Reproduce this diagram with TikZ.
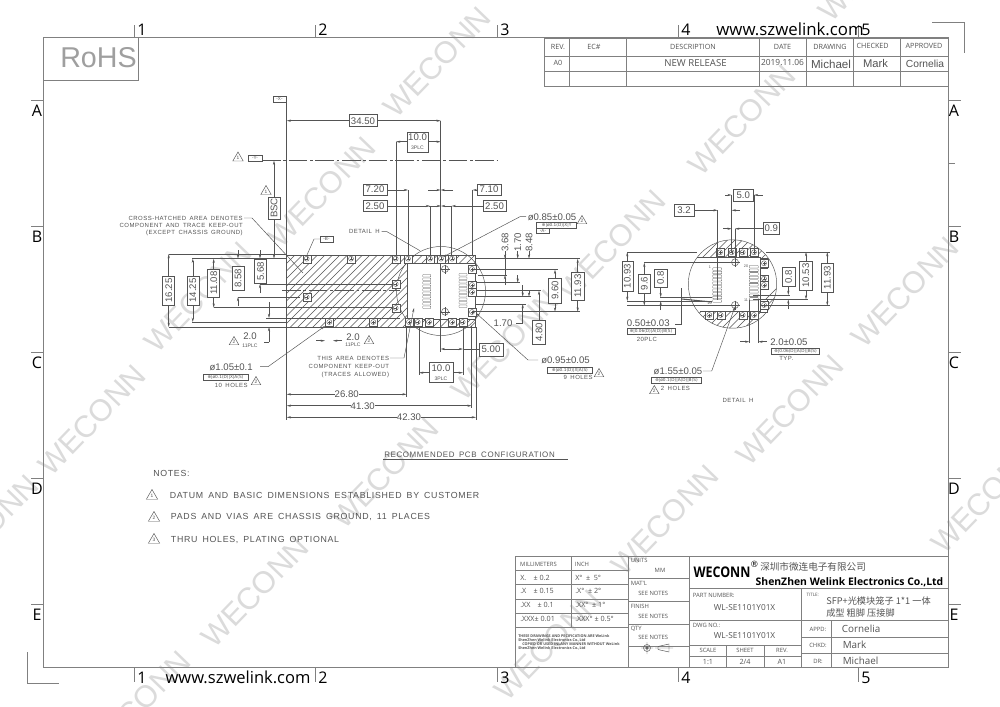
\documentclass[tikz,border=0pt]{standalone}
\usepackage{fontspec}
\usetikzlibrary{arrows.meta,shapes.geometric}
\setmainfont{Liberation Sans}
\newfontfamily\cad[LetterSpace=8,WordSpace=1.6]{Liberation Sans}
\newfontfamily\tbf{Open Sans}
\newfontfamily\cjk{Noto Sans CJK SC}
\newfontfamily\sym{DejaVu Sans}
\definecolor{ink}{gray}{0.33}
\definecolor{frm}{gray}{0.50}
\definecolor{wm}{gray}{0.86}
\newcounter{tc}
\newcommand\T[3][]{\stepcounter{tc}\node[txt,#1] (t\arabic{tc}) at (#2) {#3};}
\newcommand\HB[5]{\stepcounter{tc}\node[dbox,minimum width=#3*0.75pt,minimum height=#4*0.75pt] (t\arabic{tc}) at (#1,#2) {#5};}
\newcommand\VB[5]{\stepcounter{tc}\node[dbox,rotate=90,minimum width=#4*0.75pt,minimum height=#3*0.75pt] (t\arabic{tc}) at (#1,#2) {#5};}
\newcommand\Pad[2]{\draw[ln,line width=.25pt,fill=white] ({#1-4},{#2-4}) rectangle ({#1+4},{#2+4}); \draw[ln,line width=.3pt] (#1,#2) circle[radius=2.5]; \draw[ln,line width=.15pt] ({#1-1.5},#2) -- ({#1+1.5},#2) ({#1},{#2-1.5}) -- ({#1},{#2+1.5});}
\newcommand\Hole[3]{\draw[ln] (#1,#2) circle[radius=#3]; \draw[ln,line width=.2pt] ({#1-#3-1},#2) -- ({#1+#3+1},#2) (#1,{#2-#3-1}) -- (#1,{#2+#3+1});}
\newcommand\Col[4]{\foreach \k in {0,...,9}{\draw[ln,line width=.22pt,rounded corners=.4pt] (#1,{#3+\k*(#4-#3)/10+.5}) rectangle (#2,{#3+(\k+1)*(#4-#3)/10-.5});}}
\newcommand\Tri[3]{\stepcounter{tc}\node[tri,minimum size=#3*0.75pt,font=\fontsize{3.6}{4}\selectfont] (t\arabic{tc}) at (#1) {#2};}
\newcommand\Fcf[4]{\stepcounter{tc}\node[fcf,minimum width=#3*0.75pt] (t\arabic{tc}) at (#1,#2) {#4};}
\tikzset{
 x=0.75pt,y=-0.75pt,
 ln/.style={draw=ink,line width=.35pt},
 lnb/.style={draw=ink,line width=.8pt},
 ar/.style={ln,-{Stealth[length=3.2pt,width=1.6pt]}},
 hatchl/.style={draw=ink,line width=.28pt},
 txt/.style={text=ink,inner sep=0pt,font=\fontsize{7.2}{8}\selectfont},
 note/.style={text=ink,inner sep=0pt,font=\cad\fontsize{4.5}{5.5}\selectfont},
 notem/.style={text=ink,inner sep=0pt,font=\cad\fontsize{6.6}{8}\selectfont},
 dbox/.style={draw=ink,line width=.4pt,fill=white,text=ink,inner sep=0pt,font=\fontsize{7.2}{8}\selectfont},
 tri/.style={draw=ink,line width=.35pt,regular polygon,regular polygon sides=3,inner sep=0pt,text=ink},
 fcf/.style={draw=ink,line width=.45pt,text=ink,inner sep=.4pt,minimum height=4.2pt,font=\sym\fontsize{3.2}{3.6}\selectfont},
 tb/.style={text=ink,inner sep=0pt,font=\tbf\fontsize{5.4}{6}\selectfont},
 tbs/.style={text=ink,inner sep=0pt,font=\tbf\fontsize{4.4}{5}\selectfont},
 sig/.style={text=ink,inner sep=0pt,font=\tbf\fontsize{7.4}{8}\selectfont},
 rule/.style={draw=frm,line width=.55pt},
 tick/.style={text=black,inner sep=0pt,font=\tbf\fontsize{12}{14}\selectfont},
 url/.style={text=black,inner sep=0pt,font=\tbf\fontsize{12.6}{14}\selectfont},
 urlb/.style={text=black,inner sep=0pt,font=\tbf\fontsize{12.4}{14}\selectfont},
 wmk/.style={text=wm,inner sep=0pt,rotate=46,font=\fontsize{23}{24}\selectfont},
}
\begin{document}
\begin{tikzpicture}
\useasboundingbox (0,0) rectangle (1000,707);
\fill[white] (0,0) rectangle (1000,707);
% watermarks
\foreach \p in {(437,62),(322,192),(198,297),(92,420),(-15,530),(612,245),(505,345),(385,473),(255,592),(137,706),(742,120),(905,292),(790,410),(665,520),(548,645),(985,498),(872,-34)}{\node[wmk] at \p {WECONN};}
% sheet frame
\draw[rule] (43.5,37.7) rectangle (948.3,667.7);
\draw[rule] (43.5,80.3) -- (138,80.3) -- (138,37.7);
\T[text=gray!75!white,font=\fontsize{21.5}{22}\selectfont]{98.5,58}{RoHS}
\foreach \x/\n in {134/1,315/2,497/3,678/4,858/5}{
  \draw[rule] (\x,25) -- (\x,37.7);
  \draw[rule] (\x,667.7) -- (\x,682);
  \node[tick] at (\x+8,30) {\n};
  \node[tick] at (\x+8,677.5) {\n};
}
\foreach \y/\n in {100/A,226/B,352/C,478/D,604/E}{
  \draw[rule] (31,\y) -- (43.5,\y);
  \draw[rule] (948.3,\y) -- (961,\y);
  \node[tick] at (37,\y+11) {\n};
  \node[tick] at (954,\y+11) {\n};
}
\draw[rule] (948.3,163.5) -- (955,163.5);
\draw[rule] (27.3,652) -- (27.3,683.5) -- (59,683.5);
\draw[rule] (932,22) -- (964,22) -- (964,53);
\T[url]{790,29.5}{www.szwelink.com}
\T[urlb]{238,677.5}{www.szwelink.com}
% revision table
\draw[rule] (544,38) rectangle (948.3,86);
\draw[rule] (544,56) -- (948.3,56) (544,71) -- (948.3,71);
\foreach \x in {569.3,626,759.3,806,853.3,900.7}{\draw[rule] (\x,38) -- (\x,86);}
\T[tb]{558,46.5}{REV.}
\T[tb]{594,46.5}{EC\#}
\T[tb]{693,46.5}{DESCRIPTION}
\T[tb]{782.5,46.5}{DATE}
\T[tb]{830,46.5}{DRAWING}
\T[tb]{872.7,45.5}{CHECKED}
\T[tb]{924,45.5}{APPROVED}
\T[tb]{558,63}{A0}
\T[tb,font=\tbf\fontsize{7.2}{8}\selectfont]{695.5,63}{NEW RELEASE}
\T[tb,font=\tbf\fontsize{6.3}{7}\selectfont]{782.5,63}{2019.11.06}
\T[tb,font=\fontsize{8.7}{9}\selectfont]{831,64}{Michael}
\T[tb,font=\fontsize{8.4}{9}\selectfont]{875.5,63}{Mark}
\T[tb,font=\fontsize{7.7}{9}\selectfont]{925,63.5}{Cornelia}
% hatch main
\begin{scope}
\clip (286.7,255) -- (475.7,255) -- (475.7,263) -- (407,263) -- (407,319) -- (475.7,319) -- (475.7,327) -- (286.7,327) -- cycle;
\foreach \a in {205,212.5,...,480}{\draw[hatchl] (\a,330) -- (\a+80,250);}
\end{scope}
\draw[ln] (286.7,255) rectangle (475.7,327);
\draw[ln] (475.7,263) -- (407,263) -- (407,319) -- (475.7,319);
% circle of detail H
\draw[ln] (441,291) circle[radius=44.5];
% centre lines / long extension lines
\draw[ln,dash pattern=on 14pt off 2pt on 2pt off 2pt] (262,160.7) -- (497,160.7);
\draw[ln,dash pattern=on 14pt off 2pt on 2pt off 2pt] (282,290.7) -- (400,290.7);
\draw[ln] (286.7,96) -- (286.7,420);
\draw[ln] (440.7,120.7) -- (440.7,352);
\draw[ln] (396,141.7) -- (396,263);
\draw[ln] (408,190) -- (408,263);
\draw[ln] (472.7,190) -- (472.7,256);
\draw[ln] (430,206) -- (430,256);
\draw[ln] (451.7,206) -- (451.7,256);
\draw[ln] (463,326) -- (463,375);
\draw[ln] (419,326) -- (419,375);
\draw[ln] (406.7,327) -- (406.7,397);
\draw[ln] (471.7,326) -- (471.7,408);
\draw[ln] (476,327) -- (476,420);
% left horizontals
\draw[ln] (168.7,254) -- (286.7,254);
\draw[lnb] (192,258.7) -- (286.7,258.7);
\draw[ln] (260,284) -- (396,284);
\draw[ln] (238,297) -- (300,297);
\draw[ln] (213.7,307.7) -- (396,307.7);
\draw[ln] (266,318) -- (400,318);
\draw[ln] (192,322) -- (286.7,322);
\draw[ln] (168.7,327) -- (286.7,327);
% left dims
\VB{168.7}{290.5}{12}{29}{16.25}
\draw[ar] (168.7,276) -- (168.7,254);\draw[ar] (168.7,305) -- (168.7,327);
\VB{192.8}{290.5}{12}{29}{14.25}
\draw[ar] (192.8,276) -- (192.8,258.7);\draw[ar] (192.8,305) -- (192.8,322);
\VB{213.7}{283}{12}{28}{11.08}
\draw[ar] (213.7,269) -- (213.7,258.7);\draw[ar] (213.7,297) -- (213.7,307.7);
\VB{238}{278}{12}{24}{8.58}
\draw[ar] (238,250) -- (238,258.7);\draw[ar] (238,306) -- (238,297);
\VB{260.5}{271}{12.5}{24}{5.68}
\draw[ar] (260,250) -- (260,258.7);\draw[ar] (260,293) -- (260,284);
\draw[ar] (274,197) -- (274,160.7);\draw[ar] (274,219) -- (274,258.7);
\VB{274}{208}{12}{22}{BSC}
\Tri{266,191.5}{1}{12}
\Tri{238,158}{1}{12}
\HB{255}{158}{14}{6}{\fontsize{3.4}{3.4}\selectfont -Y-}
\HB{279.5}{99}{13}{6}{\fontsize{3.4}{3.4}\selectfont -X-}
% top dims
\draw[ar] (349,120.7) -- (286.7,120.7);\draw[ar] (377,120.7) -- (440.7,120.7);
\HB{363}{120.7}{28}{12}{34.50}
\draw[ar] (407,141.7) -- (396,141.7);\draw[ar] (428,141.7) -- (440.7,141.7);
\stepcounter{tc}\node[dbox,minimum width=15.75pt,minimum height=15pt,align=center] (t\arabic{tc}) at (417.5,142) {10.0\\[-1.5pt]{\fontsize{3.8}{4}\selectfont 3PLC}};
\draw[ar] (387,190) -- (408,190);\draw[ln,-{Stealth[length=3.2pt,width=1.6pt]}] (428,190) -- (440.7,190);
\draw[ar] (477,190) -- (472.7,190);\draw[ar] (453,190) -- (440.7,190);
\HB{375}{189.5}{24}{11}{7.20}
\HB{489}{189.5}{24}{11}{7.10}
\draw[ar] (387,206) -- (430,206);\draw[ar] (483,206) -- (451.7,206);
\draw[ar] (452,206) -- (441,206);\draw[ar] (429,206) -- (441,206);
\HB{375}{206}{24}{10.5}{2.50}
\HB{494.5}{206}{23}{10.5}{2.50}
% pads and holes
\foreach \p/\q in {306.7/258.7,351/258.7,395.7/258.7,408/258.7,430/258.7,441/258.7,452/258.7,
 329.3/322,373.3/322,409/322,417.7/322,429/322,452/322,462.7/322,306.7/297,395.7/284,395.7/308,472/269,472/285,472/292,472/312}{\Pad{\p}{\q}}
\Hole{445}{269}{3.5}
\Hole{445}{311.7}{3.5}
\Col{422.7}{430.7}{274}{309}
\Col{459}{467}{273}{308}
% leaders
\draw[ln] (244,218) -- (252,218) -- (303,273);
\T[note,anchor=east]{243,218}{CROSS-HATCHED AREA DENOTES}
\T[note,anchor=east]{243,225.5}{COMPONENT AND TRACE KEEP-OUT}
\T[note,anchor=east]{243,233}{(EXCEPT CHASSIS GROUND)}
\HB{326.5}{239}{13}{6}{\fontsize{3.4}{3.4}\selectfont -B-}
\draw[ln] (320,239) -- (314,239) -- (307,255);
\T[note,anchor=east]{380,231.5}{DETAIL H}
\draw[ln] (381.7,231.7) -- (387,231.7) -- (420,250.7);
\draw[ar] (526,216.7) -- (520,216.7) -- (443,257);
\T[txt,anchor=west]{527.5,217}{ø0.85±0.05}
\Fcf{556.7}{225}{40}{⊕|ø0.1(D)|X|Y}
\HB{543}{230.5}{12.6}{5}{\fontsize{3.4}{3.4}\selectfont -A-}
\Tri{582,221}{2}{11}
% bottom-left callouts
\draw[ar] (260,366.7) -- (268,366.7) -- (325,326);
\T[txt,anchor=east]{253,367.5}{ø1.05±0.1}
\Fcf{225.5}{377}{45}{⊕|ø0.1(D)|X|A(S)}
\T[note,anchor=east]{248,385}{10 HOLES}
\Tri{256,382}{2}{11}
\T[txt]{250,336.5}{2.0}
\T[note,font=\fontsize{3.8}{4}\selectfont]{250,345.5}{11PLC}
\Tri{234,342}{2}{11}
\draw[ar] (269,302) -- (269,318);\draw[ar] (269,342) -- (269,327);
\draw[ln] (269,342) -- (264,342);
\draw[ar] (316,340.7) -- (325,340.7);\draw[ar] (342,340.7) -- (333,340.7);
\T[txt]{353,337}{2.0}
\T[note,font=\fontsize{3.8}{4}\selectfont]{353,345}{11PLC}
\Tri{369,341}{2}{11}
\draw[ar] (390,358) -- (404,358) -- (414,308);
\T[note,anchor=east]{389.3,358.3}{THIS AREA DENOTES}
\T[note,anchor=east]{389.3,366}{COMPONENT KEEP-OUT}
\T[note,anchor=east]{389.3,374.7}{(TRACES ALLOWED)}
% bottom dims
\draw[ar] (335,394.3) -- (286.7,394.3);\draw[ar] (359,394.3) -- (406.7,394.3);
\T[txt]{346.7,394.5}{26.80}
\draw[ar] (351,405.7) -- (286.7,405.7);\draw[ar] (375,405.7) -- (471.7,405.7);
\T[txt]{362.7,405.8}{41.30}
\draw[ar] (397,417.3) -- (286.7,417.3);\draw[ar] (421,417.3) -- (476,417.3);
\T[txt]{409,417.5}{42.30}
\draw[ar] (429,372.7) -- (419,372.7);\draw[ar] (453,372.7) -- (463,372.7);
\stepcounter{tc}\node[dbox,minimum width=17.7pt,minimum height=15pt,align=center] (t\arabic{tc}) at (441,372.7) {10.0\\[-1.5pt]{\fontsize{3.8}{4}\selectfont 3PLC}};
\draw[ar] (451,349) -- (440.7,349);\draw[ar] (451,349) -- (463,349);
\draw[ln] (463,349) -- (479,349);
\HB{491}{349.5}{24}{13}{5.00}
% right dims main
\draw[lnb] (475.7,258.7) -- (580,258.7);
\draw[ln] (472,269.7) -- (558,269.7);
\draw[ln] (478,275) -- (507,275);
\draw[ln] (476,282.7) -- (520,282.7);
\draw[ln] (476,290.7) -- (541,290.7);
\draw[ln] (476,296.7) -- (531,296.7);
\draw[ln] (476,304) -- (526,304);
\draw[ln] (472,311.7) -- (580,311.7);
\draw[ar] (577.7,272) -- (577.7,258.7);\draw[ar] (577.7,300) -- (577.7,311.7);
\VB{577.7}{286}{12.5}{28}{11.93}
\draw[ar] (555,278) -- (555,269.7);\draw[ar] (555,303) -- (555,311.7);
\VB{555}{290.5}{13.5}{25}{9.60}
\draw[ar] (539,320) -- (539,290.7);
\VB{539}{332}{13}{24}{4.80}
\T[rotate=90]{505,242}{3.68}
\T[rotate=90]{517.7,242}{1.70}
\T[rotate=90]{529,242}{8.48}
\draw[ar] (505,251) -- (505,258.7);\draw[ar] (505,285) -- (505,275);\draw[ln] (505,251) -- (505,275);
\draw[ar] (517.7,251) -- (517.7,258.7);\draw[ar] (517.7,275) -- (517.7,282.7);
\draw[ar] (529,251) -- (529,258.7);\draw[ar] (529,290) -- (529,296.7);
\draw[ar] (522.7,323) -- (522.7,304);
\draw[ar] (522.7,285) -- (522.7,296.7);
\draw[ln] (522.7,323) -- (516,323);
\T[txt]{503,323.5}{1.70}
% 0.95 callout
\draw[ar] (538,360) -- (528,360) -- (476,313);
\T[txt,anchor=west]{541,360}{ø0.95±0.05}
\Fcf{570}{370}{45}{⊕|ø0.1(D)|X|A(S)}
\T[note,anchor=east]{593,377}{9 HOLES}
\Tri{599,374}{2}{11}
\T[notem,font=\cad\fontsize{5.95}{7}\selectfont,anchor=west]{384,454.5}{RECOMMENDED PCB CONFIGURATION}
\draw[ln] (383,459) -- (568,459);
\T[notem,anchor=west]{153,473}{NOTES:}
\Tri{152,496}{1}{13}
\T[notem,anchor=west]{169.5,495}{DATUM AND BASIC DIMENSIONS ESTABLISHED BY CUSTOMER}
\Tri{154,518}{2}{13}
\T[notem,anchor=west]{170.7,517}{PADS AND VIAS ARE CHASSIS GROUND, 11 PLACES}
\Tri{154,540}{3}{13}
\T[notem,anchor=west]{170.7,539.5}{THRU HOLES, PLATING OPTIONAL}
% detail H
\begin{scope}
\clip (732.5,284) circle[radius=44.2];
\foreach \a in {640,647.5,...,830}{\draw[hatchl] (\a,260) -- (\a+30,230);\draw[hatchl] (\a,335) -- (\a+30,305);}
\foreach \a in {750,757.5,...,830}{\draw[hatchl] (\a,315) -- (\a+55,260);}
\fill[white] (689,257.7) rectangle (760,311.7);
\end{scope}
\draw[ln] (732.5,284) circle[radius=44.2];
\draw[ln] (697,257.7) -- (760,257.7) -- (760,311.7) -- (700,311.7);
\foreach \y/\h in {258/10,275/14,299/13}{\draw[ln,fill=white] (760,\y) rectangle (767,\y+\h);}
\foreach \p/\q in {720/252.3,731.7/252.3,742.7/252.3,754/252.3,764/263.3,764/278.7,764/285,764/305,709.3/315,720.7/315,742.7/315,754/315}{\Pad{\p}{\q}}
\Hole{735}{262.3}{3.5}
\Hole{735}{305}{3.5}
\Col{712.7}{721.7}{267.3}{302.7}
\Col{749.3}{758.3}{265}{300.7}
\T[txt,font=\fontsize{2.8}{3}\selectfont]{710,267}{1}
\T[txt,font=\fontsize{2.8}{3}\selectfont]{746,266}{20}
\T[txt,font=\fontsize{2.8}{3}\selectfont]{746,300}{11}
\T[txt,font=\fontsize{2.8}{3}\selectfont]{709.5,303}{10}
% detail dims
\draw[ln] (731.7,195) -- (731.7,252);
\draw[ln] (754,195) -- (754,252);
\draw[ln] (717.7,210.3) -- (717.7,300);
\draw[ln] (735,228.7) -- (735,259);
\HB{743.3}{195.3}{20}{12.6}{5.0}
\draw[ar] (725,195) -- (731.7,195);\draw[ar] (762.5,195) -- (754,195);
\HB{684}{210.6}{20}{11.7}{3.2}
\draw[ar] (694,210.3) -- (717.7,210.3);\draw[ar] (740,210.3) -- (731.7,210.3);
\HB{771.3}{228.5}{16}{11.6}{0.9}
\draw[ar] (763.3,228.7) -- (735,228.7);\draw[ar] (723,228.7) -- (731.7,228.7);
\draw[ln] (627,252) -- (697,252);\draw[ln] (766,252) -- (830,252);
\draw[ln] (644,262.7) -- (731,262.7);
\draw[ln] (627,301) -- (712,301);
\draw[ln] (660,297.3) -- (712,297.3);
\draw[ln] (627,305.7) -- (731,305.7);
\draw[ln] (760,305.7) -- (830,305.7);
\draw[ln] (753,295) -- (790,295);
\draw[ln] (753,299.3) -- (808,299.3);
\VB{627.3}{276.3}{11}{29.4}{10.93}
\draw[ar] (627.3,262) -- (627.3,252);\draw[ar] (627.3,291) -- (627.3,301);
\VB{644.3}{283.5}{12.7}{19}{9.6}
\draw[ar] (644.3,274) -- (644.3,262.7);\draw[ar] (644.3,293) -- (644.3,305.7);
\VB{660.5}{278}{12.7}{18}{0.8}
\draw[ar] (660.7,287) -- (660.7,297.3);\draw[ar] (660.7,310) -- (660.7,301);
\VB{788.5}{277}{13}{19}{0.8}
\draw[ar] (788.3,287) -- (788.3,295);\draw[ar] (788.3,309) -- (788.3,299.3);
\VB{805.8}{275.5}{13}{29}{10.53}
\draw[ar] (806,261) -- (806,252);\draw[ar] (806,290) -- (806,299.3);
\VB{827.2}{277.8}{12.3}{29}{11.93}
\draw[ar] (827.3,263) -- (827.3,252);\draw[ar] (827.3,292.3) -- (827.3,305.7);
\draw[lnb] (681.7,295) -- (681.7,304);
\draw[ln] (681.7,288) -- (681.7,324) -- (675,324);
\draw[lnb] (681.7,299) -- (712,302);
\T[txt,anchor=west]{626.7,323}{0.50±0.03}
\Fcf{651}{331}{48}{⊕|0.06(D)|A(D)|B(S)}
\T[note,anchor=west]{636.5,339}{20PLC}
\draw[ln] (749.3,300) -- (749.3,343);
\draw[ln] (758.3,300) -- (758.3,343);
\draw[ar] (740,341.7) -- (749.3,341.7);\draw[ar] (766.5,341.7) -- (758.3,341.7);
\T[txt,anchor=west]{770,341.7}{2.0±0.05}
\Fcf{795.5}{351}{48}{⊕|0.06(D)|A(D)|B(S)}
\T[note,anchor=west]{779,358}{TYP.}
\draw[ar] (703,371) -- (711.7,371) -- (735,306.7);
\T[txt,anchor=east]{702.5,371}{ø1.55±0.05}
\Fcf{676.5}{380}{50}{⊕|ø0.1(D)|A(D)|B(S)}
\Tri{654.3,391}{2}{11}
\T[note,anchor=west]{660.7,388}{2 HOLES}
\T[note]{738,400}{DETAIL H}
% title block
\draw[rule] (515,556) rectangle (948.3,667.5);
\draw[rule] (571,556) -- (571,627.3);
\draw[rule] (628.3,556) -- (628.3,667.5);
\draw[rule] (689.3,556) -- (689.3,667.5);
\foreach \y in {570,584.3,599,613.3,627.3}{\draw[rule] (515,\y) -- (628.3,\y);}
\foreach \y in {578.3,601,624,646}{\draw[rule] (628.3,\y) -- (689.3,\y);}
\draw[rule] (689.3,588.3) -- (948.3,588.3);
\draw[rule] (689.3,620) -- (801.7,620);
\draw[rule] (689.3,645) -- (801.7,645);
\draw[rule] (689.3,656) -- (801.7,656);
\draw[rule] (801.7,588.3) -- (801.7,667.5);
\draw[rule] (726.7,645) -- (726.7,667.5);
\draw[rule] (764,645) -- (764,667.5);
\draw[rule] (801.7,620.7) -- (948.3,620.7);
\draw[rule] (801.7,637.3) -- (948.3,637.3);
\draw[rule] (801.7,653.3) -- (948.3,653.3);
\draw[rule] (831.7,620.7) -- (831.7,667.5);
\T[tbs]{538.5,564}{MILLIMETERS}
\T[tbs]{582,564}{INCH}
\T[tb,anchor=west]{520,578}{X.\quad ± 0.2}
\T[tb,anchor=west]{520,590.7}{.X\quad ± 0.15}
\T[tb,anchor=west]{520,605}{.XX\quad ± 0.1}
\T[tb,anchor=west]{520,619}{.XXX± 0.01}
\T[tb,anchor=west]{575,578}{X°\enspace ±\enspace 5°}
\T[tb,anchor=west]{575,590.7}{.X°\enspace ± 2°}
\T[tb,anchor=west]{575,605}{.XX°\enspace ± 1°}
\T[tb,anchor=west]{575,619}{.XXX° ± 0.5°}
\T[tbs,anchor=west]{630.5,560.7}{UNITS}
\T[tbs]{660,570}{MM}
\T[tbs,anchor=west]{630.5,583.3}{MAT'L}
\T[tbs,anchor=west]{638,593.7}{SEE NOTES}
\T[tbs,anchor=west]{630.5,606}{FINISH}
\T[tbs,anchor=west]{638,616.7}{SEE NOTES}
\T[tbs,anchor=west]{630.5,629}{QTY}
\T[tbs,anchor=west]{638,637.3}{SEE NOTES}
\draw[ln] (647,648) circle[radius=3.5] (647,648) circle[radius=1.5] (641,648) -- (653,648) (647,642) -- (647,654);
\draw[ln] (658,646.5) -- (669,644) -- (669,652) -- (658,649.5) -- cycle (655,648) -- (673,648);
\T[tb,font=\tbf\bfseries\fontsize{2.8}{3.4}\selectfont,anchor=west]{518,636}{THESE DRAWINGS AND PECIFICATION ARE WeLink}
\T[tb,font=\tbf\bfseries\fontsize{2.8}{3.4}\selectfont,anchor=west]{518,640}{ShenZhen Welink Electronics Co.,Ltd}
\T[tb,font=\tbf\bfseries\fontsize{2.8}{3.4}\selectfont,anchor=west]{522,644.3}{COPIED OR USED INLANY MANNER WITHOUT WeLink}
\T[tb,font=\tbf\bfseries\fontsize{2.8}{3.4}\selectfont,anchor=west]{518,648.4}{ShenZhen Welink Electronics Co.,Ltd}
\T[tb,font=\tbf\bfseries\fontsize{11}{12}\selectfont,text=black,xscale=.85]{722,572.5}{WECONN}
\T[tb,font=\sym\fontsize{6.5}{7}\selectfont,text=black]{754.5,564}{®}
\T[tb,font=\cjk\fontsize{7.2}{9}\selectfont,anchor=west]{760,566.5}{深圳市微连电子有限公司}
\T[tb,font=\tbf\bfseries\fontsize{7.8}{9}\selectfont,text=black]{849.5,582}{ShenZhen Welink Electronics Co.,Ltd}
\T[tbs,anchor=west]{692.7,595}{PART NUMBER:}
\T[tb,font=\tbf\fontsize{6.2}{7}\selectfont]{744.5,608}{WL-SE1101Y01X}
\T[tbs,anchor=west]{692.7,625}{DWG NO.:}
\T[tb,font=\tbf\fontsize{6.2}{7}\selectfont]{744.5,636}{WL-SE1101Y01X}
\T[tbs]{708,650.5}{SCALE}
\T[tbs]{745,650.5}{SHEET}
\T[tbs]{782,650.5}{REV.}
\T[tb]{708,661.7}{1:1}
\T[tb]{745,661.7}{2/4}
\T[tb]{782,661.7}{A1}
\T[tbs,font=\tbf\fontsize{3.4}{4}\selectfont]{812.7,595}{TITLE:}
\T[tb,font=\cjk\fontsize{6.9}{8}\selectfont,anchor=west]{826,601}{SFP+光模块笼子 1*1 一体}
\T[tb,font=\cjk\fontsize{6.9}{8}\selectfont,anchor=west]{826,613}{成型 粗脚 压接脚}
\T[tbs]{818,629}{APPD:}
\T[tbs]{818,645}{CHKD:}
\T[tbs]{818,661}{DR:}
\T[sig,anchor=west]{841.7,629}{Cornelia}
\T[sig,anchor=west]{842.5,645}{Mark}
\T[sig,anchor=west]{842.5,661}{Michael}
\end{tikzpicture}
\end{document}
